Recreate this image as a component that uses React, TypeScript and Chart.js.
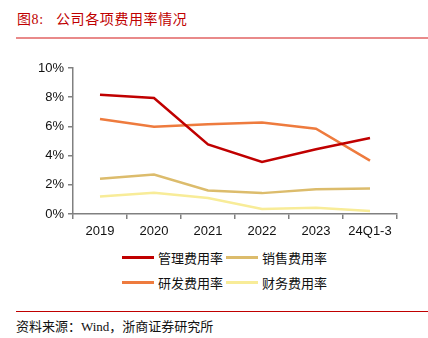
import React, { useEffect, useRef } from "react";
import { Chart, registerables } from "chart.js";

Chart.register(...registerables);

const categories = ["2019", "2020", "2021", "2022", "2023", "24Q1-3"];
const mgmtRate = [8.16, 7.95, 4.77, 3.57, 4.43, 5.2];
const salesRate = [2.41, 2.7, 1.61, 1.43, 1.7, 1.75];
const rdRate = [6.5, 5.98, 6.14, 6.27, 5.84, 3.66];
const finRate = [1.2, 1.45, 1.09, 0.34, 0.43, 0.2];
const yTicks = [0, 2, 4, 6, 8, 10];

const seriesNames = ["管理费用率", "销售费用率", "研发费用率", "财务费用率"];
const seriesColors = ["#C00000", "#DCBC6C", "#EE7B3E", "#F8EC98"];

const CJK = "'Liberation Serif', 'Noto Sans CJK SC', serif";

export default function App() {
  const ref = useRef<HTMLCanvasElement | null>(null);

  useEffect(() => {
    if (!ref.current) return;
    const data = [mgmtRate, salesRate, rdRate, finRate];
    const chart = new Chart(ref.current, {
      type: "line",
      data: {
        labels: categories,
        datasets: data.map((d, i) => ({
          label: seriesNames[i],
          data: d,
          borderColor: seriesColors[i],
          backgroundColor: seriesColors[i],
          borderWidth: 2.5,
          pointRadius: 0,
          tension: 0,
          fill: false,
        })),
      },
      options: {
        animation: false,
        responsive: false,
        maintainAspectRatio: false,
        layout: { padding: { top: 16, right: 31, left: 0, bottom: 0 } },
        plugins: { legend: { display: false }, tooltip: { enabled: false } },
        scales: {
          x: {
            type: "category",
            offset: true,
            grid: {
              display: true,
              drawOnChartArea: false,
              offset: true,
              tickLength: 5,
              color: "#808080",
              lineWidth: 1.5,
            },
            border: { color: "#808080", width: 1.5 },
            ticks: {
              color: "#111",
              font: { family: "'Liberation Sans', Arial, sans-serif", size: 13 },
              padding: 5,
              maxRotation: 0,
            },
            afterFit: (s: any) => {
              s.height = 28;
            },
          },
          y: {
            min: 0,
            max: 10,
            afterBuildTicks: (s: any) => {
              s.ticks = yTicks.map((v) => ({ value: v }));
            },
            grid: {
              display: true,
              drawOnChartArea: false,
              tickLength: 5,
              color: "#808080",
              lineWidth: 1.5,
            },
            border: { color: "#808080", width: 1.5 },
            ticks: {
              color: "#111",
              font: { family: "'Liberation Sans', Arial, sans-serif", size: 13 },
              padding: 4,
              callback: (v: any) => v + "%",
            },
            afterFit: (s: any) => {
              s.width = 73;
            },
          },
        },
      },
    });
    return () => chart.destroy();
  }, []);

  const legendRows = [
    [0, 1],
    [2, 3],
  ];

  return (
    <div
      style={{
        position: "absolute",
        left: 0,
        top: 0,
        width: 428,
        height: 338,
        background: "#fff",
        overflow: "hidden",
      }}
    >
      <div
        style={{
          position: "absolute",
          left: 17,
          top: 11,
          fontFamily: CJK,
          fontSize: 14,
          color: "#C00000",
          whiteSpace: "nowrap",
          lineHeight: "18px",
          letterSpacing: 0.6,
        }}
      >
        图8:&nbsp;&nbsp;&nbsp;公司各项费用率情况
      </div>
      <div
        style={{
          position: "absolute",
          left: 16,
          top: 37,
          width: 412,
          height: 2,
          background: "#E98A8A",
        }}
      />
      <canvas
        ref={ref}
        width={428}
        height={190}
        style={{ position: "absolute", left: 0, top: 52, width: 428, height: 190 }}
      />
      {legendRows.map((row, ri) =>
        row.map((si, ci) => (
          <div
            key={si}
            style={{
              position: "absolute",
              left: 122 + ci * 104,
              top: 249 + ri * 25,
              height: 16,
              display: "flex",
              alignItems: "center",
              whiteSpace: "nowrap",
            }}
          >
            <div style={{ width: 32, height: 3, background: seriesColors[si], marginRight: 4 }} />
            <span style={{ fontFamily: CJK, fontSize: 13, color: "#111", letterSpacing: 0 }}>
              {seriesNames[si]}
            </span>
          </div>
        ))
      )}
      <div
        style={{
          position: "absolute",
          left: 16,
          top: 311,
          width: 412,
          height: 1,
          background: "#C00000",
        }}
      />
      <div
        style={{
          position: "absolute",
          left: 16,
          top: 318,
          fontFamily: CJK,
          fontSize: 13,
          color: "#111",
          whiteSpace: "nowrap",
          lineHeight: "17px",
        }}
      >
        资料来源：Wind，浙商证券研究所
      </div>
    </div>
  );
}
